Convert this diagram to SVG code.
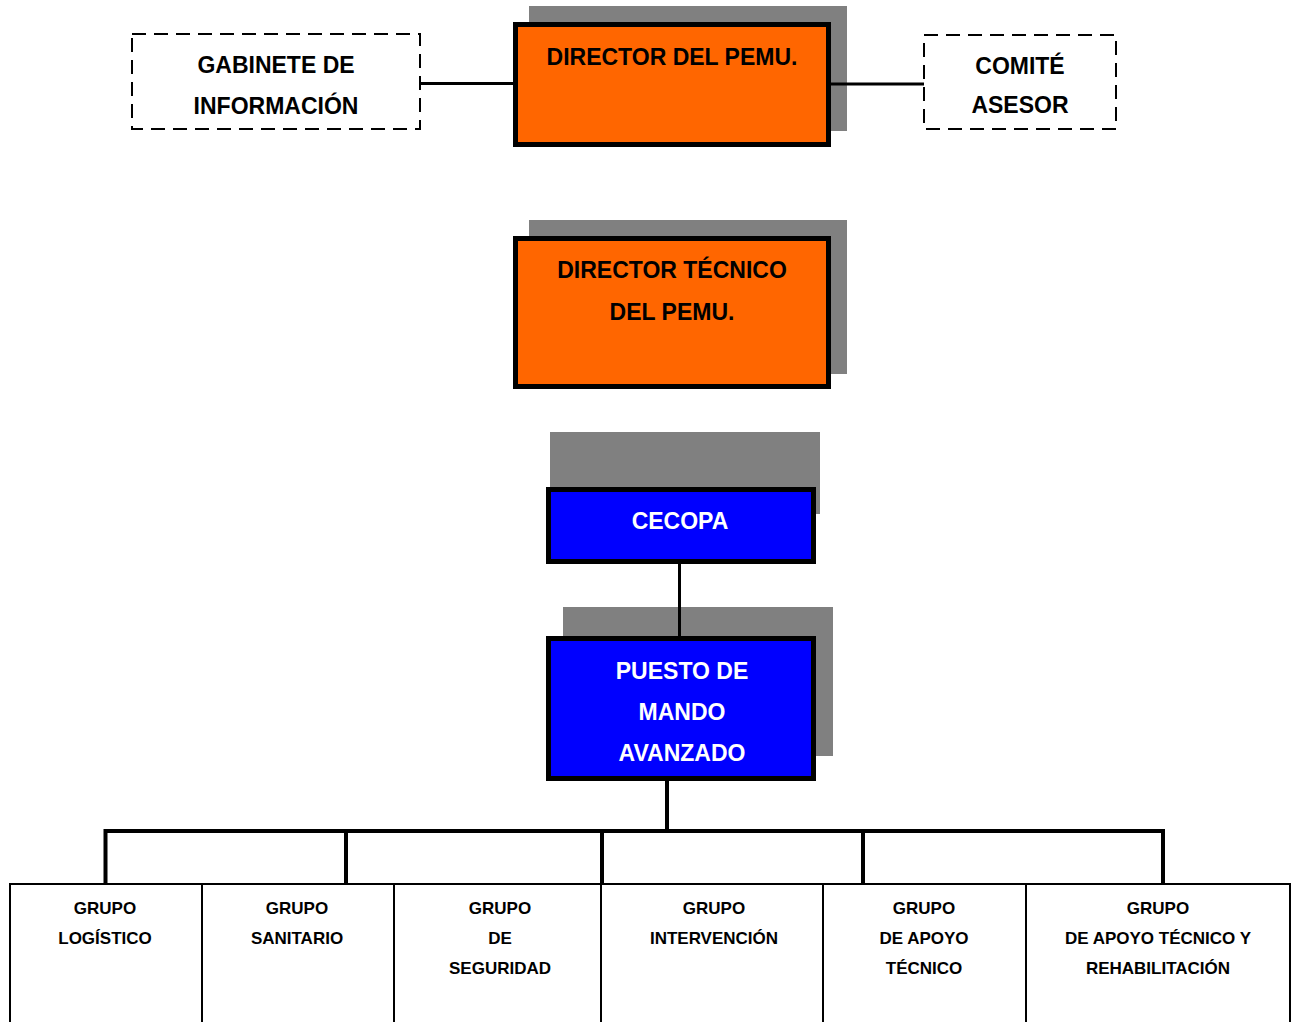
<svg xmlns="http://www.w3.org/2000/svg" width="1296" height="1022" viewBox="0 0 1296 1022">
  <style>
    .shadow { fill: #808080; }
    .orange { fill: #FF6600; stroke: #000; stroke-width: 5; }
    .blue { fill: #0000FF; stroke: #000; stroke-width: 5; }
    .dashed { fill: #fff; stroke: #000; stroke-width: 2; stroke-dasharray: 14 8; }
    .cell { fill: #fff; stroke: #000; stroke-width: 2; }
    .wire { fill: none; stroke: #000; stroke-width: 3; }
    .bus { fill: none; stroke: #000; stroke-width: 4; }
    text { font-family: "Liberation Sans", Arial, sans-serif; font-weight: bold; text-anchor: middle; }
    .big { font-size: 23px; fill: #000; }
    .big.w { fill: #fff; }
    .small { font-size: 17px; fill: #000; }
  </style>
  <rect width="1296" height="1022" fill="#fff"/>

  <g id="gabinete">
    <rect class="dashed" x="132" y="34" width="288" height="95"/>
    <text class="big" x="276" y="73">GABINETE DE</text>
    <text class="big" x="276" y="114">INFORMACIÓN</text>
  </g>

  <g id="comite">
    <rect class="dashed" x="924" y="35" width="192" height="94"/>
    <text class="big" x="1020" y="74">COMITÉ</text>
    <text class="big" x="1020" y="113">ASESOR</text>
  </g>

  <g id="director">
    <rect class="shadow" x="529" y="6" width="318" height="125"/>
    <rect class="orange" x="515.5" y="24.5" width="313" height="120"/>
    <text class="big" x="672" y="65">DIRECTOR DEL PEMU.</text>
  </g>

  <g id="director-tecnico">
    <rect class="shadow" x="529" y="220" width="318" height="154"/>
    <rect class="orange" x="515.5" y="238.5" width="313" height="148"/>
    <text class="big" x="672" y="278">DIRECTOR TÉCNICO</text>
    <text class="big" x="672" y="320">DEL PEMU.</text>
  </g>

  <g id="cecopa">
    <rect class="shadow" x="550" y="432" width="270" height="82"/>
    <rect class="blue" x="548.5" y="489.5" width="265" height="72"/>
    <text class="big w" x="680" y="529">CECOPA</text>
  </g>

  <g id="puesto-mando">
    <rect class="shadow" x="563" y="607" width="270" height="149"/>
    <rect class="blue" x="548.5" y="638.5" width="265" height="140"/>
    <text class="big w" x="682" y="679">PUESTO DE</text>
    <text class="big w" x="682" y="720">MANDO</text>
    <text class="big w" x="682" y="761">AVANZADO</text>
  </g>

  <g id="grupo-logistico">
    <rect class="cell" x="10" y="884" width="192" height="150"/>
    <text class="small" x="105" y="914">GRUPO</text>
    <text class="small" x="105" y="944">LOGÍSTICO</text>
  </g>
  <g id="grupo-sanitario">
    <rect class="cell" x="202" y="884" width="192" height="150"/>
    <text class="small" x="297" y="914">GRUPO</text>
    <text class="small" x="297" y="944">SANITARIO</text>
  </g>
  <g id="grupo-seguridad">
    <rect class="cell" x="394" y="884" width="207" height="150"/>
    <text class="small" x="500" y="914">GRUPO</text>
    <text class="small" x="500" y="944">DE</text>
    <text class="small" x="500" y="974">SEGURIDAD</text>
  </g>
  <g id="grupo-intervencion">
    <rect class="cell" x="601" y="884" width="222" height="150"/>
    <text class="small" x="714" y="914">GRUPO</text>
    <text class="small" x="714" y="944">INTERVENCIÓN</text>
  </g>
  <g id="grupo-apoyo-tecnico">
    <rect class="cell" x="823" y="884" width="203" height="150"/>
    <text class="small" x="924" y="914">GRUPO</text>
    <text class="small" x="924" y="944">DE APOYO</text>
    <text class="small" x="924" y="974">TÉCNICO</text>
  </g>
  <g id="grupo-rehabilitacion">
    <rect class="cell" x="1026" y="884" width="264" height="150"/>
    <text class="small" x="1158" y="914">GRUPO</text>
    <text class="small" x="1158" y="944">DE APOYO TÉCNICO Y</text>
    <text class="small" x="1158" y="974">REHABILITACIÓN</text>
  </g>

  <!-- connectors sit above the drop shadows -->
  <g id="connectors">
    <line class="wire" x1="420" y1="83.5" x2="515" y2="83.5"/>
    <line class="wire" x1="829" y1="84" x2="924" y2="84"/>
    <line class="wire" x1="679.5" y1="563" x2="679.5" y2="638"/>
    <polyline class="bus" points="667,780 667,831"/>
    <polyline class="bus" points="105.5,884 105.5,831 1163,831 1163,884"/>
    <line class="bus" x1="346" y1="831" x2="346" y2="884"/>
    <line class="bus" x1="602" y1="831" x2="602" y2="884"/>
    <line class="bus" x1="863" y1="831" x2="863" y2="884"/>
  </g>
</svg>
